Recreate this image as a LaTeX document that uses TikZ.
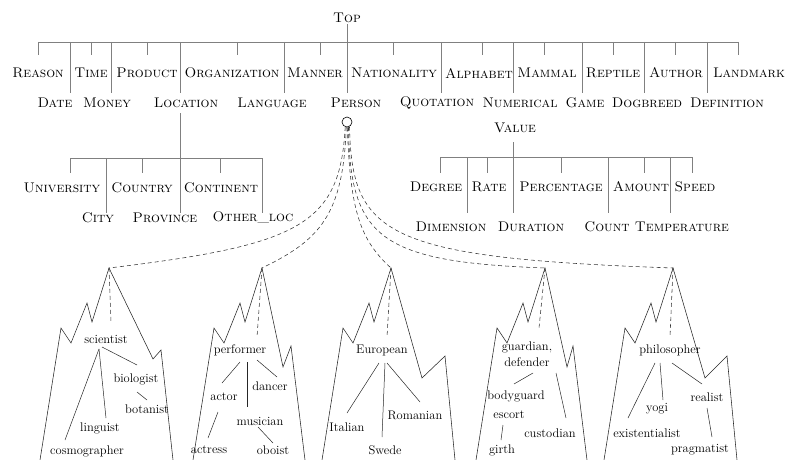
\documentclass[tikz,border=0pt]{standalone}
\usepackage{tikz}
\usetikzlibrary{positioning}

\tikzset{
	cat/.style={font=\fontsize{14}{16}\selectfont\scshape, inner sep=1pt},
	word/.style={font=\fontsize{12.5}{16}\selectfont, inner sep=1pt, align=center},
	tree/.style={draw=black!50, line width=0.7pt},
	hill/.style={draw=black!85, line width=0.55pt},
	link/.style={draw=black!85, line width=0.5pt},
	hint/.style={draw=black!80, line width=0.55pt, dash pattern=on 4pt off 3pt}
}

\begin{document}
\begin{tikzpicture}[x=1pt, y=-1pt]
	\useasboundingbox (0,0) rectangle (789,460);

	\node[cat] (top) at (347,18) {Top};
	\coordinate (barL) at (38,42);
	\coordinate (barR) at (738,42);
	\draw[tree] (barL) -- (barR);
	\draw[tree] (top.south) -- (top.south |- barL);
	\foreach \lab/\x/\t [count=\i] in {Reason/38/38, Time/91/91, Product/147/147, Organization/232/237, Manner/315/320, Nationality/394/393, Alphabet/479/482, Mammal/547/544, Reptile/613/613, Author/676/675, Landmark/749/738} {
		\node[cat] (hi\i) at (\x,73) {\lab};
		\draw[tree] (\t,42) -- (\t,55);
	}
	\foreach \lab/\x/\t [count=\i] in {Date/55/70, Money/107/111, Location/186/180, Language/272/284, Person/356/347, Quotation/437/441, Numerical/520/513, Game/585/582, Dogbreed/647/644, Definition/727/707} {
		\node[cat] (lo\i) at (\x,103) {\lab};
		\draw[tree] (\t,42) -- (\t,93);
	}

	\draw[tree] (180,113) -- (180,213);
	\draw[tree] (70,158) -- (262,158);
	\foreach \lab/\x/\t [count=\i] in {University/62/70, Country/142/142, Continent/221/220} {
		\node[cat] (lu\i) at (\x,188) {\lab};
		\draw[tree] (\t,158) -- (\t,173);
	}
	\foreach \lab/\x/\t [count=\i] in {City/98/106, Province/165/180, Other\_loc/253/262} {
		\node[cat] (ll\i) at (\x,218) {\lab};
		\draw[tree] (\t,158) -- (\t,213);
	}

	\node[cat] (value) at (515,128) {Value};
	\draw[tree] (513,142) -- (513,208);
	\draw[tree] (440,157) -- (692,157);
	\foreach \lab/\x/\t [count=\i] in {Degree/436/440, Rate/489/487, Percentage/561/561, Amount/641/644, Speed/695/692} {
		\node[cat] (vu\i) at (\x,187) {\lab};
		\draw[tree] (\t,157) -- (\t,173);
	}
	\foreach \lab/\x/\t [count=\i] in {Dimension/451/467, Duration/531/513, Count/607/608, Temperature/682/670} {
		\node[cat] (vl\i) at (\x,227) {\lab};
		\draw[tree] (\t,157) -- (\t,213);
	}

	\foreach \px/\ra/\rb/\rc/\rd/\re [count=\i] in {109/44/91/52/82/64, 262/21/99/29/78/43, 391/31/110/54/88/64, 545/22/99/28/78/42, 673/32/110/54/88/64} {
		\coordinate (pk\i) at (\px,268);
		\draw[hill] (\px-69,460) -- (\px-48,328) -- (\px-38,343) -- (\px-22,303) -- (\px-17,322) -- (pk\i)
			-- (\px+\ra,268+\rb) -- (\px+\rc,268+\rd) -- (\px+\re,460);
	}

	\node[draw, circle, minimum size=10pt, inner sep=0pt, line width=0.6pt] (pc) at (347,122) {};
	\draw[hint] (pc.250) .. controls (340,225) and (300,245) .. (pk1);
	\draw[hint] (pc.262) .. controls (343,215) and (320,240) .. (pk2);
	\draw[hint] (pc.274) .. controls (350,210) and (360,240) .. (pk3);
	\draw[hint] (pc.286) .. controls (350,238) and (380,262) .. (pk4);
	\draw[hint] (pc.298) .. controls (352,235) and (385,258) .. (pk5);

	\node[word] (sci) at (106,339) {scientist};
	\node[word] (bio) at (136,379) {biologist};
	\node[word] (bot) at (147,409) {botanist};
	\node[word] (lin) at (100,428) {linguist};
	\node[word] (cos) at (87,451) {cosmographer};
	\draw[hint] (pk1) -- ([shift={(5,-16)}]sci.center);
	\draw[link] ([shift={(-7,10)}]sci.center) -- ([shift={(-22,-11)}]cos.center);
	\draw[link] ([shift={(-7,10)}]sci.center) -- ([shift={(6,-10)}]lin.center);
	\draw[link] ([shift={(-4,8)}]sci.center) -- ([shift={(1,-14)}]bio.center);
	\draw[link] ([shift={(1,13)}]bio.center) -- ([shift={(0,-9)}]bot.center);

	\node[word] (perf) at (240,350) {performer};
	\node[word] (actor) at (224,397) {actor};
	\node[word] (dancer) at (270,386) {dancer};
	\node[word] (mus) at (260,421) {musician};
	\node[word] (actress) at (209,450) {actress};
	\node[word] (oboist) at (273,450) {oboist};
	\draw[hint] (pk2) -- ([shift={(17,-13)}]perf.center);
	\draw[link] ([shift={(0,12)}]perf.center) -- ([shift={(-2,-14)}]actor.center);
	\draw[link] ([shift={(7,12)}]perf.center) -- ([shift={(-13,-14)}]mus.center);
	\draw[link] ([shift={(17,10)}]perf.center) -- ([shift={(7,-9)}]dancer.center);
	\draw[link] ([shift={(-6,15)}]actor.center) -- ([shift={(-1,-12)}]actress.center);
	\draw[link] ([shift={(-2,6)}]mus.center) -- ([shift={(0,-7)}]oboist.center);

	\node[word] (euro) at (382,350) {European};
	\node[word] (ital) at (347,427) {Italian};
	\node[word] (rom) at (415,415) {Romanian};
	\node[word] (swede) at (385,450) {Swede};
	\draw[hint] (pk3) -- ([shift={(5,-13)}]euro.center);
	\draw[link] ([shift={(-3,13)}]euro.center) -- ([shift={(0,-14)}]ital.center);
	\draw[link] ([shift={(3,13)}]euro.center) -- ([shift={(-3,-13)}]swede.center);
	\draw[link] ([shift={(5,13)}]euro.center) -- ([shift={(5,-13)}]rom.center);

	\node[word] (guard) at (527,354) {guardian,\\defender};
	\node[word] (body) at (516,396) {bodyguard};
	\node[word] (escort) at (509,415) {escort};
	\node[word] (girth) at (502,450) {girth};
	\node[word] (cust) at (550,433) {custodian};
	\draw[hint] (pk4) -- ([shift={(12,-26)}]guard.center);
	\draw[link] ([shift={(6,19)}]guard.center) -- ([shift={(-2,-12)}]body.center);
	\draw[link] ([shift={(29,19)}]guard.center) -- ([shift={(16,-15)}]cust.center);
	\draw[link] ([shift={(-6,10)}]escort.center) -- ([shift={(-1,-10)}]girth.center);

	\node[word] (phil) at (670,350) {philosopher};
	\node[word] (yogi) at (657,409) {yogi};
	\node[word] (real) at (707,397) {realist};
	\node[word] (exist) at (647,433) {existentialist};
	\node[word] (prag) at (700,450) {pragmatist};
	\draw[hint] (pk5) -- ([shift={(0,-13)}]phil.center);
	\draw[link] ([shift={(-15,13)}]phil.center) -- ([shift={(-19,-15)}]exist.center);
	\draw[link] ([shift={(-10,13)}]phil.center) -- ([shift={(6,-9)}]yogi.center);
	\draw[link] ([shift={(2,13)}]phil.center) -- ([shift={(-5,-13)}]real.center);
	\draw[link] ([shift={(0,11)}]real.center) -- ([shift={(12,-13)}]prag.center);
\end{tikzpicture}
\end{document}
